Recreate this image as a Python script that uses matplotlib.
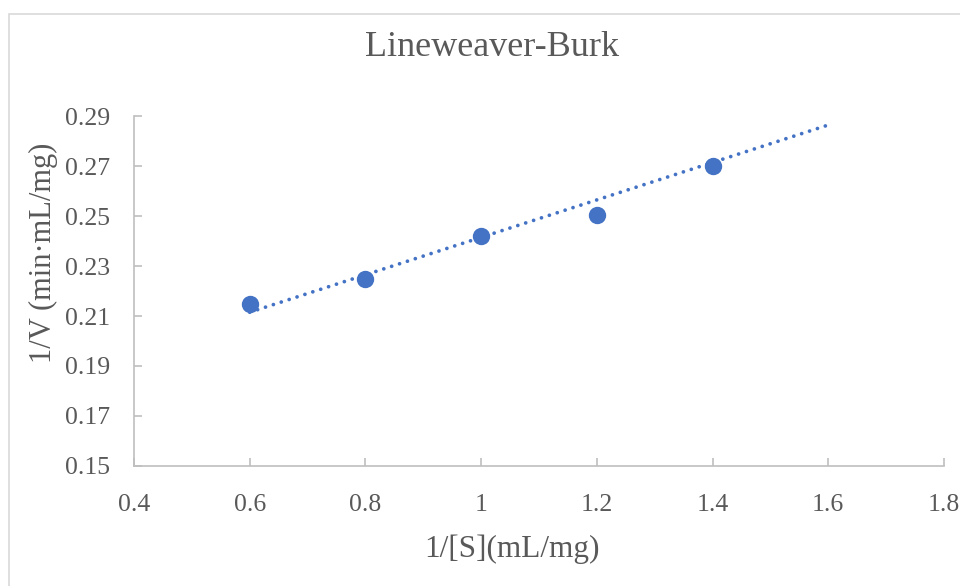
import matplotlib
matplotlib.use("Agg")
import matplotlib.pyplot as plt
from matplotlib.patches import Rectangle

# Data
inv_s = [0.6, 0.8, 1.0, 1.2, 1.4]
inv_v = [0.2147, 0.2250, 0.2421, 0.2505, 0.2701]
trend_x = [0.6, 1.6]
trend_y = [0.2115, 0.2864]
x_ticks = [0.4, 0.6, 0.8, 1.0, 1.2, 1.4, 1.6, 1.8]
x_labels = ["0.4", "0.6", "0.8", "1", "1.2", "1.4", "1.6", "1.8"]
y_ticks = [0.15, 0.17, 0.19, 0.21, 0.23, 0.25, 0.27, 0.29]
y_labels = ["0.15", "0.17", "0.19", "0.21", "0.23", "0.25", "0.27", "0.29"]

plt.rcParams['font.family'] = ['Liberation Serif', 'DejaVu Serif']
W, H = 960, 586
fig = plt.figure(figsize=(W / 100, H / 100), dpi=100)

# chart-area border
fig.patches.append(Rectangle((9 / W, -0.1), 1.2, 1 - 14 / H + 0.1, transform=fig.transFigure,
                             fill=False, edgecolor='#D9D9D9', linewidth=1.2))

ax = fig.add_axes([134 / W, (H - 466) / H, 810 / W, 350 / H])
blue = '#4472C4'
ax.plot(trend_x, trend_y, color=blue, linewidth=2.7, linestyle=(0, (0.01, 2.2)),
        dash_capstyle='round', zorder=2)
ax.plot(inv_s, inv_v, linestyle='none', marker='o', markersize=11.5, color=blue, zorder=3)

ax.set_xlim(0.4, 1.8)
ax.set_ylim(0.15, 0.29)
ax.set_xticks(x_ticks)
ax.set_xticklabels(x_labels)
ax.set_yticks(y_ticks)
ax.set_yticklabels(y_labels)

for s in ['top', 'right']:
    ax.spines[s].set_visible(False)
for s in ['left', 'bottom']:
    ax.spines[s].set_color('#BFBFBF')
    ax.spines[s].set_linewidth(1.2)

ax.tick_params(axis='both', direction='in', length=6, width=1.2, color='#BFBFBF',
               labelsize=18.5, labelcolor='#595959')
ax.tick_params(axis='y', pad=17)
ax.tick_params(axis='x', pad=20)

ax.set_xlabel('1/[S](mL/mg)', fontsize=22.5, color='#595959')
ax.set_ylabel('1/V (min·mL/mg)', fontsize=22, color='#595959')
ax.xaxis.label.set_va('center')
ax.yaxis.label.set_va('center')
ax.xaxis.set_label_coords((512 - 134) / 810, (466 - 549) / 350)
ax.yaxis.set_label_coords((43 - 134) / 810, (466 - 253) / 350)
fig.text(492 / W, 1 - 47 / H, 'Lineweaver-Burk', fontsize=26, color='#595959',
         ha='center', va='center')

fig.savefig('out.png', dpi=100, facecolor='white')
